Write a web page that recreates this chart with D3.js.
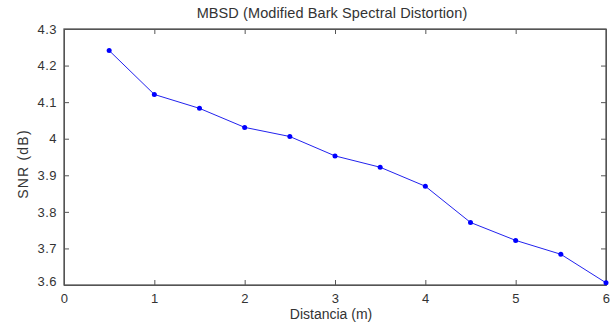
<!DOCTYPE html>
<html>
<head>
<meta charset="utf-8">
<script src="https://cdn.jsdelivr.net/npm/d3@7"></script>
<style>
  body { margin: 0; background: #fff; }
  svg text { font-family: "Liberation Sans", Arial, sans-serif; fill: #333; }
</style>
</head>
<body>
<div id="chart"></div>
<script>
// MBSD vs distance, MATLAB-style line plot.

const distancia = [0.5, 1, 1.5, 2, 2.5, 3, 3.5, 4, 4.5, 5, 5.5, 6];
const snr = [4.241, 4.121, 4.083, 4.031, 4.006, 3.953, 3.922, 3.870, 3.771, 3.722, 3.684, 3.606];
const xTicks = [0, 1, 2, 3, 4, 5, 6];
const yTicks = [3.6, 3.7, 3.8, 3.9, 4, 4.1, 4.2, 4.3];

const width = 616, height = 328;
const margin = { top: 29, right: 10, bottom: 43, left: 64 };
const innerW = width - margin.left - margin.right;
const innerH = height - margin.top - margin.bottom;

const svg = d3.select('#chart')
    .append('svg')
    .attr('width', width)
    .attr('height', height);

const g = svg.append('g')
    .attr('transform', `translate(${margin.left},${margin.top})`);

const x = d3.scaleLinear().domain([0, 6]).range([0, innerW]);
const y = d3.scaleLinear().domain([3.6, 4.3]).range([innerH, 0]);

// Axes with inward ticks.
const axisColor = '#555';
const axBottom = g.append('g')
    .attr('transform', `translate(0,${innerH})`)
    .call(d3.axisBottom(x).tickValues(xTicks).tickSizeInner(-5).tickSizeOuter(0).tickPadding(9).tickFormat(d3.format('d')));
const axTop = g.append('g')
    .call(d3.axisTop(x).tickValues(xTicks).tickSizeInner(-5).tickSizeOuter(0).tickFormat(''));
const axLeft = g.append('g')
    .call(d3.axisLeft(y).tickValues(yTicks).tickSizeInner(-5).tickSizeOuter(0).tickPadding(7).tickFormat(d => String(+d.toFixed(1))));
const axRight = g.append('g')
    .attr('transform', `translate(${innerW},0)`)
    .call(d3.axisRight(y).tickValues(yTicks).tickSizeInner(-5).tickSizeOuter(0).tickFormat(''));

[axBottom, axTop, axLeft, axRight].forEach(a => {
    a.selectAll('path, line').attr('stroke', axisColor).attr('stroke-width', 1);
    a.selectAll('text').attr('font-size', 13).attr('letter-spacing', 0.5).attr('fill', '#333');
});
// Corner label 3.6 sits slightly up, like MATLAB.
axLeft.selectAll('.tick text').filter(d => d === 3.6).attr('dy', '0.05em');

// Box outline.
g.append('rect')
    .attr('width', innerW)
    .attr('height', innerH)
    .attr('fill', 'none')
    .attr('stroke', axisColor)
    .attr('stroke-width', 1.3);

// Data line.
const line = d3.line()
    .x((d, i) => x(distancia[i]))
    .y(d => y(d));

g.append('path')
    .datum(snr)
    .attr('d', line)
    .attr('fill', 'none')
    .attr('stroke', '#2222ee')
    .attr('stroke-width', 1);

g.append('g')
    .selectAll('circle')
    .data(snr)
    .enter()
    .append('circle')
    .attr('cx', (d, i) => x(distancia[i]))
    .attr('cy', d => y(d))
    .attr('r', 2.5)
    .attr('fill', '#0000ff');

// Title and labels.
svg.append('text')
    .attr('x', 332)
    .attr('y', 18)
    .attr('text-anchor', 'middle')
    .attr('font-size', 14.5)
    .attr('letter-spacing', 0.1)
    .text('MBSD (Modified Bark Spectral Distortion)');

svg.append('text')
    .attr('x', 331)
    .attr('y', 319)
    .attr('text-anchor', 'middle')
    .attr('font-size', 14)
    .text('Distancia (m)');

svg.append('text')
    .attr('transform', `translate(28,164) rotate(-90)`)
    .attr('text-anchor', 'middle')
    .attr('font-size', 14)
    .attr('letter-spacing', 1.2)
    .text('SNR (dB)');
</script>
</body>
</html>
